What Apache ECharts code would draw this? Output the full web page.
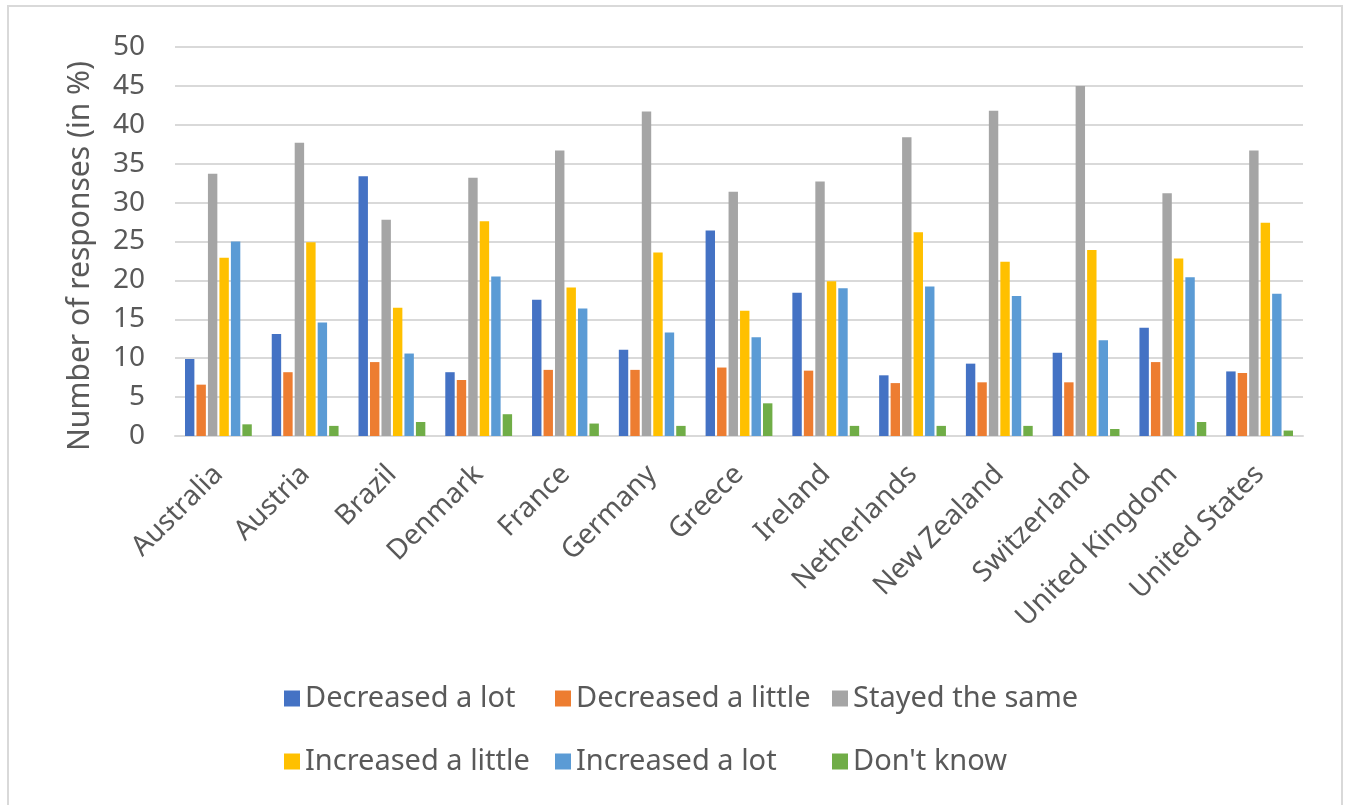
<!DOCTYPE html>
<html>
<head>
<meta charset="utf-8">
<title>Number of responses by country</title>
<script src="https://cdn.jsdelivr.net/npm/echarts@6/dist/echarts.min.js"></script>
<style>
  html, body { margin: 0; padding: 0; background: #ffffff; }
  #frame { position: absolute; left: 7px; top: 5px; width: 1336px; height: 820px; border: 2px solid #d9d9d9; box-sizing: border-box; }
  #chart { position: absolute; left: 0; top: 0; width: 1354px; height: 805px; }
</style>
</head>
<body>
<div id="frame"></div>
<div id="chart"></div>
<script>
// Countries on the category axis
const countries = ['Australia', 'Austria', 'Brazil', 'Denmark', 'France', 'Germany', 'Greece',
  'Ireland', 'Netherlands', 'New Zealand', 'Switzerland', 'United Kingdom', 'United States'];

// Share of responses per answer (in %)
const decreasedLot    = [9.9, 13.1, 33.4, 8.2, 17.5, 11.1, 26.4, 18.4, 7.8, 9.3, 10.7, 13.9, 8.3];
const decreasedLittle = [6.6, 8.2, 9.5, 7.2, 8.5, 8.5, 8.8, 8.4, 6.8, 6.9, 6.9, 9.5, 8.1];
const stayedSame      = [33.7, 37.7, 27.8, 33.2, 36.7, 41.7, 31.4, 32.7, 38.4, 41.8, 45.0, 31.2, 36.7];
const increasedLittle = [22.9, 24.9, 16.5, 27.6, 19.1, 23.6, 16.1, 19.9, 26.2, 22.4, 23.9, 22.8, 27.4];
const increasedLot    = [25.0, 14.6, 10.6, 20.5, 16.4, 13.3, 12.7, 19.0, 19.2, 18.0, 12.3, 20.4, 18.3];
const dontKnow        = [1.5, 1.3, 1.8, 2.8, 1.6, 1.3, 4.2, 1.3, 1.3, 1.3, 0.9, 1.8, 0.7];

const seriesNames = ['Decreased a lot', 'Decreased a little', 'Stayed the same',
  'Increased a little', 'Increased a lot', "Don't know"];
const seriesValues = [decreasedLot, decreasedLittle, stayedSame, increasedLittle, increasedLot, dontKnow];
const seriesColors = ['#4472C4', '#ED7D31', '#A5A5A5', '#FFC000', '#5B9BD5', '#70AD47'];

const yAxisTitle = 'Number of responses (in %)';

const FONT = '"Noto Sans", "Open Sans", sans-serif';
const TEXT = '#595959';

const chart = echarts.init(document.getElementById('chart'), null, { renderer: 'canvas' });

// Legend laid out as three aligned columns of two rows each
function legendColumn(left, names) {
  return {
    left: left, top: 679, orient: 'vertical', itemGap: 34,
    itemWidth: 16, itemHeight: 16, icon: 'rect',
    data: names,
    textStyle: { color: TEXT, fontFamily: FONT, fontSize: 29 }
  };
}

chart.setOption({
  animation: false,
  backgroundColor: 'transparent',
  grid: { left: 175, right: 51, top: 47, bottom: 369, containLabel: false },
  legend: [
    legendColumn(279, [seriesNames[0], seriesNames[3]]),
    legendColumn(550, [seriesNames[1], seriesNames[4]]),
    legendColumn(827, [seriesNames[2], seriesNames[5]])
  ],
  graphic: [{
    type: 'text', x: 80, y: 256, rotation: Math.PI / 2,
    style: { text: yAxisTitle, fill: TEXT, font: '30px ' + FONT, textAlign: 'center', textVerticalAlign: 'middle' }
  }],
  xAxis: {
    type: 'category', data: countries,
    axisLine: { show: true, lineStyle: { color: '#d9d9d9', width: 2 } },
    axisTick: { show: false },
    axisLabel: { rotate: 45, margin: 34, color: TEXT, fontFamily: FONT, fontSize: 28, interval: 0 }
  },
  yAxis: {
    type: 'value', min: 0, max: 50, interval: 5,
    axisLine: { show: false }, axisTick: { show: false },
    splitLine: { lineStyle: { color: '#d9d9d9', width: 2 } },
    axisLabel: { margin: 30, color: TEXT, fontFamily: FONT, fontSize: 28 }
  },
  series: seriesNames.map((name, i) => ({
    name: name, type: 'bar', data: seriesValues[i],
    barGap: '22%', barCategoryGap: '23%',
    itemStyle: { color: seriesColors[i] }
  }))
});
</script>
</body>
</html>
